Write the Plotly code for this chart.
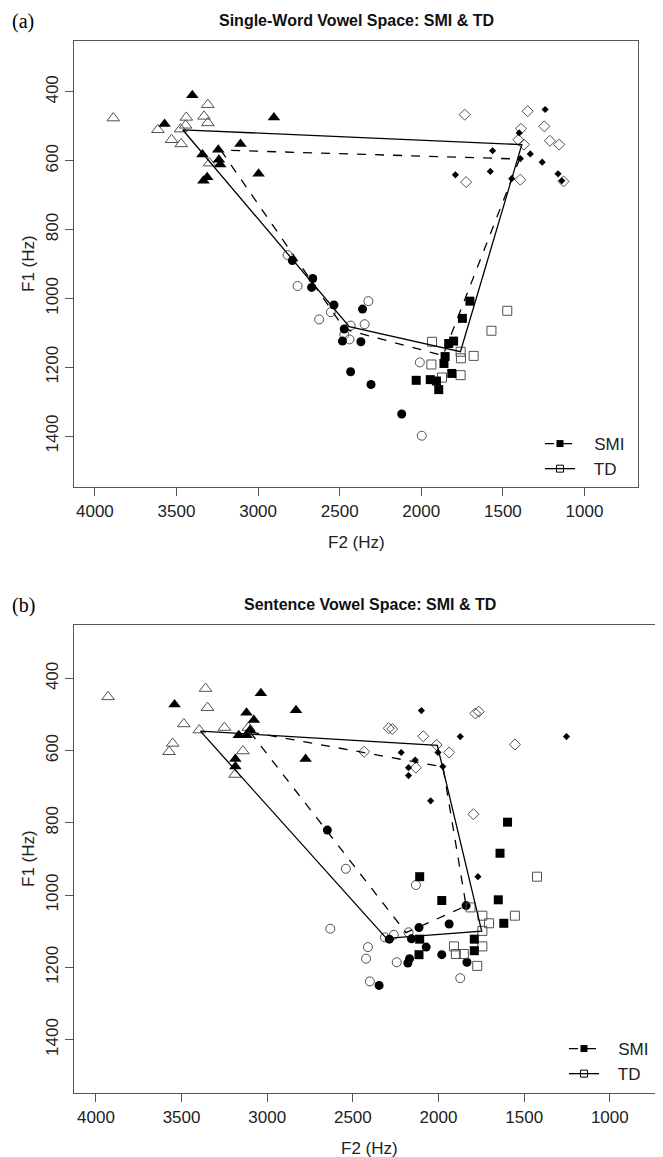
import plotly.graph_objects as go

# ---------------- Panel (a): Single-word ----------------
a_smi_i_f2 = [3403, 3573, 2903, 3108, 3244, 3341, 3240, 3232, 2997, 3312, 3335]
a_smi_i_f1 = [410, 493, 474, 551, 568, 582, 597, 611, 638, 648, 658]
a_td_i_f2 = [3887, 3308, 3440, 3331, 3308, 3444, 3614, 3530, 3471, 3297, 3475]
a_td_i_f1 = [476, 437, 474, 471, 490, 497, 510, 539, 551, 607, 508]

a_smi_u_f2 = [1241, 1400, 1563, 1332, 1393, 1259, 1577, 1791, 1446, 1162, 1139]
a_smi_u_f1 = [451, 519, 571, 580, 594, 604, 631, 641, 652, 638, 658]
a_td_u_f2 = [1734, 1348, 1246, 1389, 1405, 1371, 1212, 1155, 1725, 1393, 1128]
a_td_u_f1 = [466, 456, 500, 507, 539, 553, 542, 553, 662, 655, 660]

a_smi_a_f2 = [2790, 2665, 2672, 2535, 2360, 2472, 2483, 2370, 2433, 2308, 2120]
a_smi_a_f1 = [890, 942, 968, 1019, 1031, 1089, 1124, 1126, 1213, 1250, 1336]
a_td_a_f2 = [2819, 2758, 2554, 2626, 2324, 2347, 2433, 2472, 2440, 2009, 1997]
a_td_a_f1 = [874, 964, 1040, 1061, 1008, 1075, 1079, 1105, 1119, 1186, 1399]

a_smi_ae_f2 = [1702, 1748, 1832, 1802, 1854, 1861, 1813, 2031, 1945, 1907, 1893]
a_smi_ae_f1 = [1008, 1058, 1131, 1124, 1169, 1189, 1218, 1238, 1236, 1240, 1265]
a_td_ae_f2 = [1473, 1570, 1934, 1759, 1757, 1679, 1938, 1873, 1759]
a_td_ae_f1 = [1036, 1094, 1126, 1155, 1174, 1167, 1192, 1230, 1223]

a_td_poly_f2 = [3462, 2441, 1760, 1384, 3462]
a_td_poly_f1 = [510, 1082, 1155, 553, 510]
a_smi_poly_f2 = [3229, 2468, 1867, 1398, 3229]
a_smi_poly_f1 = [569, 1090, 1166, 595, 569]

# ---------------- Panel (b): Sentence ----------------
b_smi_i_f2 = [3541, 3037, 3121, 3078, 2832, 3100, 3166, 3121, 2776, 3186, 3186]
b_smi_i_f1 = [472, 441, 495, 515, 488, 543, 557, 557, 623, 623, 644]
b_td_i_f2 = [3929, 3360, 3349, 3487, 3397, 3250, 3552, 3573, 3142, 3188, 3110]
b_td_i_f1 = [451, 428, 481, 526, 543, 536, 580, 603, 601, 666, 536]

b_smi_u_f2 = [2100, 1873, 1253, 2218, 2003, 2136, 1975, 2175, 2175, 2046, 1770]
b_smi_u_f1 = [489, 561, 561, 605, 605, 626, 644, 647, 669, 739, 949]
b_td_u_f2 = [2291, 2270, 2089, 1785, 1765, 2011, 1938, 2434, 1554, 2132, 1796]
b_td_u_f1 = [538, 540, 560, 497, 492, 584, 605, 603, 583, 647, 776]

b_smi_a_f2 = [2649, 2114, 2287, 2158, 2072, 1938, 1839, 1981, 2169, 2179, 1834, 2347]
b_smi_a_f1 = [820, 1090, 1122, 1121, 1144, 1080, 1029, 1165, 1176, 1188, 1186, 1250]
b_td_a_f2 = [2541, 2132, 2632, 2313, 2261, 2175, 2412, 2423, 2244, 2401, 1873]
b_td_a_f1 = [927, 972, 1093, 1117, 1110, 1103, 1144, 1176, 1186, 1239, 1230]

b_smi_ae_f2 = [1597, 1641, 2110, 1981, 1651, 1619, 2110, 1791, 1791, 2114]
b_smi_ae_f1 = [798, 884, 949, 1015, 1013, 1078, 1122, 1122, 1154, 1165]
b_td_ae_f2 = [1425, 1554, 1813, 1744, 1705, 1744, 1910, 1744, 1899, 1852, 1774]
b_td_ae_f1 = [949, 1057, 1034, 1057, 1078, 1099, 1142, 1142, 1163, 1163, 1196]

b_td_poly_f2 = [3390, 2304, 1748, 2007, 3390]
b_td_poly_f1 = [546, 1120, 1100, 585, 546]
b_smi_poly_f2 = [3101, 2190, 1839, 1974, 3101]
b_smi_poly_f1 = [548, 1104, 1030, 645, 548]

x_ticks = [4000, 3500, 3000, 2500, 2000, 1500, 1000]
y_ticks = [400, 600, 800, 1000, 1200, 1400]
group_names = ["SMI", "TD"]
titles = ["Single-Word Vowel Space: SMI & TD", "Sentence Vowel Space: SMI & TD"]
panel_tags = ["(a)", "(b)"]
x_label = "F2 (Hz)"
y_label = "F1 (Hz)"

W, H = 663, 1157
FONT = "Liberation Sans, Arial, sans-serif"
OPEN_COL = "#505050"

fig = go.Figure()

def add_points(f2, f1, symbol, size, filled, xa, ya):
    if filled:
        marker = dict(symbol=symbol, size=size, color="black", line=dict(width=0))
    else:
        marker = dict(symbol=symbol + "-open", size=size, color=OPEN_COL, line=dict(width=1, color=OPEN_COL))
    fig.add_trace(go.Scatter(x=f2, y=f1, mode="markers", marker=marker,
                             xaxis=xa, yaxis=ya, showlegend=False, hoverinfo="x+y"))

def add_panel(d, xa, ya, leg):
    add_points(d["td_i"][0], d["td_i"][1], "triangle-up", 11, False, xa, ya)
    add_points(d["smi_i"][0], d["smi_i"][1], "triangle-up", 11, True, xa, ya)
    add_points(d["td_u"][0], d["td_u"][1], "diamond", 8.5, False, xa, ya)
    add_points(d["smi_u"][0], d["smi_u"][1], "diamond", 5.5, True, xa, ya)
    add_points(d["td_a"][0], d["td_a"][1], "circle", 9, False, xa, ya)
    add_points(d["smi_a"][0], d["smi_a"][1], "circle", 9, True, xa, ya)
    add_points(d["td_ae"][0], d["td_ae"][1], "square", 9, False, xa, ya)
    add_points(d["smi_ae"][0], d["smi_ae"][1], "square", 9, True, xa, ya)
    fig.add_trace(go.Scatter(x=d["smi_poly"][0], y=d["smi_poly"][1], mode="lines",
                             line=dict(color="black", width=1.3, dash="dash"),
                             xaxis=xa, yaxis=ya, showlegend=False, hoverinfo="skip"))
    fig.add_trace(go.Scatter(x=d["td_poly"][0], y=d["td_poly"][1], mode="lines",
                             line=dict(color="black", width=1.3),
                             xaxis=xa, yaxis=ya, showlegend=False, hoverinfo="skip"))
    fig.add_trace(go.Scatter(x=[None], y=[None], mode="lines+markers", name="   " + group_names[0],
                             line=dict(color="black", width=1.3, dash="dash"),
                             marker=dict(symbol="square", size=7, color="black"),
                             xaxis=xa, yaxis=ya, legend=leg))
    fig.add_trace(go.Scatter(x=[None], y=[None], mode="lines+markers", name="   " + group_names[1],
                             line=dict(color="black", width=1.3),
                             marker=dict(symbol="square-open", size=7, color="black", line=dict(width=1)),
                             xaxis=xa, yaxis=ya, legend=leg))

panel_a = dict(smi_i=(a_smi_i_f2, a_smi_i_f1), td_i=(a_td_i_f2, a_td_i_f1),
               smi_u=(a_smi_u_f2, a_smi_u_f1), td_u=(a_td_u_f2, a_td_u_f1),
               smi_a=(a_smi_a_f2, a_smi_a_f1), td_a=(a_td_a_f2, a_td_a_f1),
               smi_ae=(a_smi_ae_f2, a_smi_ae_f1), td_ae=(a_td_ae_f2, a_td_ae_f1),
               smi_poly=(a_smi_poly_f2, a_smi_poly_f1), td_poly=(a_td_poly_f2, a_td_poly_f1))
panel_b = dict(smi_i=(b_smi_i_f2, b_smi_i_f1), td_i=(b_td_i_f2, b_td_i_f1),
               smi_u=(b_smi_u_f2, b_smi_u_f1), td_u=(b_td_u_f2, b_td_u_f1),
               smi_a=(b_smi_a_f2, b_smi_a_f1), td_a=(b_td_a_f2, b_td_a_f1),
               smi_ae=(b_smi_ae_f2, b_smi_ae_f1), td_ae=(b_td_ae_f2, b_td_ae_f1),
               smi_poly=(b_smi_poly_f2, b_smi_poly_f1), td_poly=(b_td_poly_f2, b_td_poly_f1))

add_panel(panel_a, "x", "y", "legend")
add_panel(panel_b, "x2", "y2", "legend2")

# pixel boxes of the plot regions: (left, right, top, bottom)
box_a = (66, 630, 33, 479)
box_b = (66, 658, 617, 1085)

def dom_x(b):
    return [b[0] / W, b[1] / W]

def dom_y(b):
    return [1 - b[3] / H, 1 - b[2] / H]

axis_common = dict(showline=True, linecolor="#555", linewidth=1.2, mirror=True,
                   ticks="outside", ticklen=8, tickcolor="#555", tickwidth=1,
                   showgrid=False, zeroline=False,
                   tickfont=dict(family=FONT, size=17, color="#222"))

fig.update_layout(
    width=W, height=H, margin=dict(l=0, r=0, t=0, b=0),
    paper_bgcolor="white", plot_bgcolor="white",
    xaxis=dict(domain=dom_x(box_a), range=[4128, 672], tickvals=x_ticks, anchor="y", **axis_common),
    yaxis=dict(domain=dom_y(box_a), range=[1548, 252], tickvals=y_ticks, tickangle=-90, anchor="x", **axis_common),
    xaxis2=dict(domain=dom_x(box_b), range=[4128, 672], tickvals=x_ticks, anchor="y2", **axis_common),
    yaxis2=dict(domain=dom_y(box_b), range=[1548, 252], tickvals=y_ticks, tickangle=-90, anchor="x2", **axis_common),
    legend=dict(x=532 / W, y=1 - 418 / H, xanchor="left", yanchor="top",
                bgcolor="rgba(0,0,0,0)", font=dict(family=FONT, size=17, color="#222"),
                itemwidth=30, tracegroupgap=0),
    legend2=dict(x=556 / W, y=1 - 1023 / H, xanchor="left", yanchor="top",
                 bgcolor="rgba(0,0,0,0)", font=dict(family=FONT, size=17, color="#222"),
                 itemwidth=30, tracegroupgap=0),
)

ann = []
for box, title, tag in [(box_a, titles[0], panel_tags[0]), (box_b, titles[1], panel_tags[1])]:
    cx = (box[0] + box[1]) / 2
    ann.append(dict(x=cx / W, y=1 - (box[2] - 21) / H, xref="paper", yref="paper",
                    text="<b>" + title + "</b>", showarrow=False, xanchor="center", yanchor="middle",
                    font=dict(family=FONT, size=16, color="#111")))
    ann.append(dict(x=cx / W, y=1 - (box[3] + 55) / H, xref="paper", yref="paper",
                    text=x_label, showarrow=False, xanchor="center", yanchor="middle",
                    font=dict(family=FONT, size=17, color="#222")))
    ann.append(dict(x=20 / W, y=1 - ((box[2] + box[3]) / 2) / H, xref="paper", yref="paper",
                    text=y_label, showarrow=False, xanchor="center", yanchor="middle", textangle=-90,
                    font=dict(family=FONT, size=17, color="#222")))
    ann.append(dict(x=2 / W, y=1 - (box[2] - 20) / H, xref="paper", yref="paper",
                    text=tag, showarrow=False, xanchor="left", yanchor="middle",
                    font=dict(family="Liberation Serif, Times New Roman, serif", size=20, color="black")))
fig.update_layout(annotations=ann)

fig.write_html("out.html")
